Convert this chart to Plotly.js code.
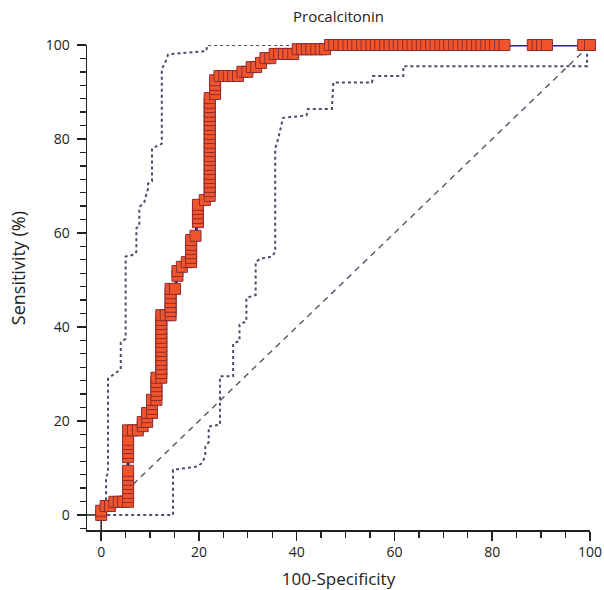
<!DOCTYPE html>
<html>
<head>
<meta charset="utf-8">
<script src="https://cdn.plot.ly/plotly-3.0.1.min.js"></script>
<style>html,body{margin:0;padding:0;background:#fff;}#chart{width:604px;height:590px;}</style>
</head>
<body>
<div id="chart"></div>
<script>
// ROC curve points (100-Specificity, Sensitivity)
const rocX = [0,0,0.9,1.8,2.7,3.6,4.5,5.5,5.5,5.5,5.5,5.5,5.5,5.5,5.5,5.5,5.5,5.5,5.5,5.5,5.5,6.5,7.5,
  8.5,8.5,9.4,9.4,9.4,10.4,10.4,10.4,10.4,11.3,11.3,11.3,11.3,11.3,11.3,
  12.3,12.3,12.3,12.3,12.3,12.3,12.3,12.3,12.3,12.3,12.3,12.3,12.3,12.3,12.3,
  13.2,14.2,14.2,14.2,14.2,14.2,14.2,14.2,15.1,
  15.6,15.6,16.5,17.5,18.4,18.4,18.4,18.4,18.4,18.4,19.3,
  19.8,19.8,19.8,19.8,19.8,21.2,
  22.2,22.2,22.2,22.2,22.2,22.2,22.2,22.2,22.2,22.2,22.2,22.2,22.2,22.2,22.2,22.2,22.2,22.2,22.2,22.2,22.2,22.2,22.2,
  23.3,23.3,23.3,23.3,24.2,25.2,26.1,27.0,28.0,28.9,29.9,30.8,31.7,32.7,33.6,34.6,
  35.5,36.4,37.4,38.3,39.3,40.2,41.1,42.1,43.0,44.0,44.9,45.8,
  46.8,47.7,48.7,49.6,50.6,51.5,52.4,53.4,54.3,55.3,56.2,57.1,58.1,59.0,60.0,60.9,61.8,62.8,63.7,64.7,
  65.6,66.5,67.5,68.4,69.4,70.3,71.2,72.2,73.1,74.1,75.0,75.9,76.9,77.8,78.8,79.7,80.6,81.6,82.5,
  88.3,89.3,90.2,91.2,98.6,100];
const rocY = [0,0.9,1.9,1.9,2.8,2.8,2.8,2.8,3.8,4.7,5.7,6.6,7.5,8.5,9.4,12.3,13.2,14.2,15.1,16.0,18.0,18.0,18.0,
  18.9,19.8,19.8,20.8,21.7,21.7,22.6,23.6,24.5,24.5,25.5,26.4,27.4,28.3,29.2,
  29.2,30.2,31.1,32.1,33.0,34.0,34.9,35.8,36.8,37.7,38.7,39.6,40.6,41.5,42.5,
  42.5,42.5,43.4,44.3,45.3,46.2,47.2,48.1,48.1,
  50.9,51.9,52.8,53.8,53.8,54.7,55.7,56.6,57.5,58.5,59.4,
  62.3,63.2,64.2,65.1,66.0,67.0,
  67.9,68.9,69.8,70.8,71.7,72.6,73.6,74.5,75.5,76.4,77.4,78.3,79.2,80.2,81.1,82.1,83.0,84.0,84.9,85.8,86.8,87.7,88.7,
  89.6,90.6,91.5,92.5,93.4,93.4,93.4,93.4,93.4,94.3,94.3,95.3,95.3,96.2,97.2,97.2,
  98.1,98.1,98.1,98.1,98.1,99.1,99.1,99.1,99.1,99.1,99.1,99.1,
  100,100,100,100,100,100,100,100,100,100,100,100,100,100,100,100,100,100,100,100,
  100,100,100,100,100,100,100,100,100,100,100,100,100,100,100,100,100,100,100,
  100,100,100,100,100,100];

// Upper confidence bound
const ciUpX = [0,1.0,1.0,1.4,1.4,3.3,4.0,4.0,5.0,5.0,6.8,7.2,7.2,7.8,7.8,8.8,9.6,9.6,10.4,10.4,12.4,12.4,13.0,13.7,16.8,21.5,21.7,100];
const ciUpY = [0,0.4,8.0,9.0,29.0,30.5,31.0,36.7,37.5,55.0,55.4,56.0,61.0,61.5,65.5,66.5,69.5,70.5,71.0,78.0,79.0,95.0,96.0,98.0,98.3,98.7,100,100];

// Lower confidence bound
const ciLoX = [0,14.7,14.7,19.6,20.6,21.3,21.3,22.0,22.0,24.3,24.3,27.0,27.0,28.3,28.3,29.7,29.7,31.6,31.6,32.5,35.0,35.6,35.6,36.2,37.2,42.0,42.3,47.2,47.5,55.4,55.6,61.8,61.8,99.4,99.4,100];
const ciLoY = [0,0,9.6,10.3,11.0,12.5,14.5,15.5,18.8,19.2,29.5,29.5,36.5,37.0,40.5,41.2,46.2,46.8,53.8,54.5,55.0,56.0,78.0,80.0,84.5,85.0,86.4,86.4,92.0,92.0,93.4,93.4,95.5,95.5,99.0,100];

// Reference diagonal
const diagX = [0,100];
const diagY = [0,100];

const xTickVals = [0,20,40,60,80,100];
const yTickVals = [0,20,40,60,80,100];

const ciColor = '#4c4c6c';
const traces = [
  {x: diagX, y: diagY, mode:'lines', line:{color:'#55556a', width:1.4, dash:'6px,5px'}, cliponaxis:false, hoverinfo:'skip'},
  {x: ciUpX, y: ciUpY, mode:'lines', line:{color:ciColor, width:2, dash:'3px,3px'}, cliponaxis:false, hoverinfo:'skip'},
  {x: ciLoX, y: ciLoY, mode:'lines', line:{color:ciColor, width:2, dash:'3px,3px'}, cliponaxis:false, hoverinfo:'skip'},
  {x: rocX, y: rocY, mode:'lines+markers', line:{color:'#26268a', width:3},
   marker:{symbol:'square', size:11, color:'#f0542a', line:{color:'#8c2c34', width:1}}, cliponaxis:false}
];

const fontFam = '"Open Sans", "Noto Sans", sans-serif';
const layout = {
  width:604, height:590,
  margin:{l:87, r:14, t:45, b:60},
  paper_bgcolor:'#fff', plot_bgcolor:'#fff',
  showlegend:false,
  font:{family:fontFam, color:'#222'},
  title:{text:'Procalcitonin', font:{size:15, color:'#222'}, xref:'paper', x:0.5, xanchor:'center', yref:'container', y:0.971, yanchor:'middle'},
  xaxis:{range:[-2.9,100], showgrid:false, zeroline:false, showline:true, linecolor:'#222', linewidth:1.5,
    ticks:'outside', ticklen:9, tickwidth:1.5, tickcolor:'#222', tickvals:xTickVals,
    tickfont:{size:14, color:'#222'},
    minor:{dtick:5, ticklen:6, tickwidth:1.3, tickcolor:'#222', ticks:'outside', showgrid:false},
    title:{text:'100-Specificity', font:{size:17, color:'#222'}, standoff:14}},
  yaxis:{range:[-3.2,100], showgrid:false, zeroline:false, showline:true, linecolor:'#222', linewidth:1.5,
    ticks:'outside', ticklen:9, tickwidth:1.5, tickcolor:'#222', tickvals:yTickVals,
    tickfont:{size:14, color:'#222'}, ticklabelstandoff:4,
    minor:{dtick:20/7, tick0:0, ticklen:6, tickwidth:1.3, tickcolor:'#222', ticks:'outside', showgrid:false}},
  annotations:[
    {text:'Sensitivity (%)', xref:'paper', yref:'paper', x:-0.137, y:0.54, xanchor:'center', yanchor:'middle',
     textangle:-90, showarrow:false, font:{size:18, color:'#222'}}
  ],
  shapes:[
    {type:'line', xref:'x', yref:'y', x0:-2.9, y0:0, x1:0, y1:0, line:{color:'#222', width:1.5}, layer:'below'},
    {type:'line', xref:'x', yref:'y', x0:0, y0:-3.2, x1:0, y1:0, line:{color:'#222', width:1.5}, layer:'below'}
  ]
};
Plotly.newPlot('chart', traces, layout, {displayModeBar:false, staticPlot:true});
</script>
</body>
</html>
